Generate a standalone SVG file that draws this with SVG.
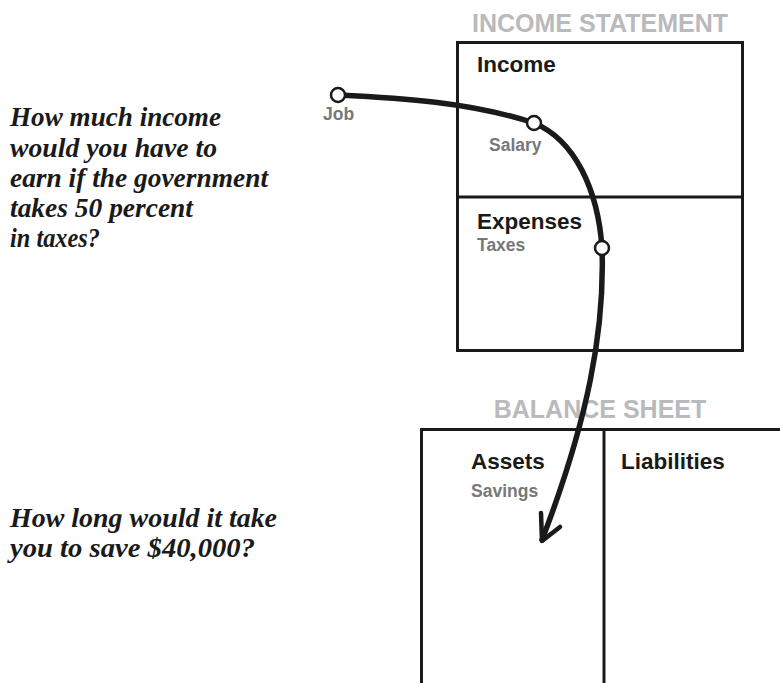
<svg xmlns="http://www.w3.org/2000/svg" width="780" height="683" viewBox="0 0 780 683">
<style>
.box{fill:none;stroke:#1a1a1a;stroke-width:3}
.title{font-family:"Liberation Sans",Arial,sans-serif;font-weight:bold;font-size:25px;fill:#b9babc;text-anchor:middle}
.head{font-family:"Liberation Sans",Arial,sans-serif;font-weight:bold;font-size:22.5px;fill:#1a1a1a}
.sub{font-family:"Liberation Sans",Arial,sans-serif;font-weight:bold;font-size:17.5px;fill:#77787a}
.q{font-family:"Liberation Serif","Times New Roman",serif;font-weight:bold;font-style:italic;font-size:27px;fill:#1a1a1a}
.dot{fill:#fff;stroke:#1a1a1a;stroke-width:2.5}
</style>
<rect width="780" height="683" fill="#fff"/>
<g id="income-statement">
<text class="title" x="600" y="32">INCOME STATEMENT</text>
<rect class="box" x="457.5" y="42.5" width="285" height="308"/>
<line class="box" x1="457.5" y1="197" x2="742.5" y2="197"/>
<text class="head" x="477" y="72">Income</text>
<text class="head" x="477" y="229">Expenses</text>
</g>
<g id="balance-sheet">
<text class="title" x="600" y="418">BALANCE SHEET</text>
<path class="box" d="M421.5 683 V429.5 H782 M604 429.5 V683"/>
<text class="head" x="471" y="469">Assets</text>
<text class="head" x="621" y="469">Liabilities</text>
<text class="sub" x="471" y="497">Savings</text>
</g>
<g id="questions">
<text class="q" x="10" y="126" textLength="211" lengthAdjust="spacingAndGlyphs">How much income</text>
<text class="q" x="10" y="157" textLength="207" lengthAdjust="spacingAndGlyphs">would you have to</text>
<text class="q" x="10" y="187" textLength="258" lengthAdjust="spacingAndGlyphs">earn if the government</text>
<text class="q" x="10" y="217" textLength="183" lengthAdjust="spacingAndGlyphs">takes 50 percent</text>
<text class="q" x="10" y="247" textLength="90" lengthAdjust="spacingAndGlyphs">in taxes?</text>
<text class="q" x="10" y="527" textLength="267" lengthAdjust="spacingAndGlyphs">How long would it take</text>
<text class="q" x="10" y="557" textLength="245" lengthAdjust="spacingAndGlyphs">you to save $40,000?</text>
</g>
<g id="connectors">
<path d="M338 95 C400 98 470 102 534 123 C575 140 598 190 602 248 C605 330 588 420 542 540" fill="none" stroke="#1a1a1a" stroke-width="5.5" stroke-linecap="round"/>
<path d="M541 513 L542 541 L560 527" fill="none" stroke="#1a1a1a" stroke-width="4.5" stroke-linecap="round" stroke-linejoin="round"/>
</g>
<g id="job">
<circle class="dot" cx="338" cy="95" r="7"/>
<text class="sub" x="323" y="120">Job</text>
</g>
<g id="salary">
<circle class="dot" cx="534" cy="123" r="7"/>
<text class="sub" x="489" y="151">Salary</text>
</g>
<g id="taxes">
<circle class="dot" cx="602" cy="248" r="7"/>
<text class="sub" x="477" y="251">Taxes</text>
</g>
</svg>
